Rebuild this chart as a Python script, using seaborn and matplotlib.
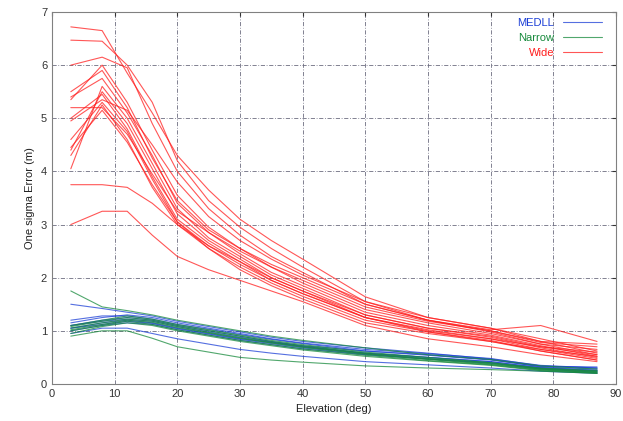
import matplotlib
matplotlib.use("Agg")
import matplotlib.pyplot as plt
import seaborn as sns
import pandas as pd

# Elevation sample points (deg)
elevation = [3, 8, 12, 16, 20, 25, 30, 35, 40, 50, 60, 70, 78, 87]

# One-sigma error (m) per satellite pass, wide correlator
wide_runs = [
    [6.72, 6.65, 5.85, 5.10, 4.30, 3.65, 3.10, 2.70, 2.35, 1.64, 1.25, 1.05, 0.85, 0.62],
    [6.47, 6.45, 6.00, 5.30, 4.20, 3.45, 2.95, 2.55, 2.20, 1.55, 1.20, 1.00, 0.80, 0.58],
    [5.35, 6.00, 5.30, 4.40, 3.55, 2.95, 2.55, 2.20, 1.90, 1.40, 1.15, 0.95, 0.75, 0.55],
    [5.40, 5.75, 5.10, 4.30, 3.40, 2.85, 2.45, 2.10, 1.85, 1.35, 1.10, 0.92, 0.72, 0.52],
    [4.05, 5.60, 5.00, 4.15, 3.30, 2.75, 2.40, 2.05, 1.80, 1.30, 1.05, 0.90, 0.70, 0.55],
    [4.40, 5.50, 4.90, 4.05, 3.20, 2.70, 2.35, 2.00, 1.75, 1.30, 1.05, 0.88, 0.68, 0.50],
    [5.00, 5.45, 4.80, 3.90, 3.10, 2.65, 2.30, 1.95, 1.70, 1.25, 1.02, 0.85, 0.65, 0.48],
    [4.60, 5.30, 4.75, 3.85, 3.05, 2.60, 2.25, 1.95, 1.70, 1.25, 1.00, 0.85, 0.70, 0.60],
    [4.30, 5.25, 4.60, 3.70, 3.00, 2.55, 2.20, 1.90, 1.65, 1.20, 0.98, 0.82, 0.62, 0.45],
    [5.20, 5.20, 4.70, 3.95, 3.25, 2.85, 2.50, 2.20, 1.95, 1.45, 1.18, 1.00, 0.78, 0.70],
    [6.00, 6.15, 5.95, 4.90, 4.00, 3.30, 2.80, 2.40, 2.10, 1.50, 1.20, 1.02, 1.10, 0.80],
    [3.75, 3.75, 3.70, 3.40, 3.00, 2.60, 2.30, 2.00, 1.75, 1.25, 0.98, 0.80, 0.62, 0.45],
    [3.00, 3.25, 3.25, 2.80, 2.40, 2.15, 1.95, 1.75, 1.55, 1.10, 0.85, 0.70, 0.55, 0.42],
    [4.45, 5.15, 4.55, 3.75, 3.05, 2.55, 2.15, 1.85, 1.60, 1.15, 0.95, 0.80, 0.65, 0.52],
    [5.50, 5.90, 5.20, 4.25, 3.45, 2.90, 2.55, 2.25, 2.00, 1.50, 1.20, 0.98, 0.75, 0.65],
    [4.95, 5.35, 5.15, 4.50, 3.80, 3.15, 2.70, 2.35, 2.05, 1.55, 1.25, 1.05, 0.80, 0.75],
]

# MEDLL receiver
medll_runs = [
    [1.05, 1.15, 1.20, 1.15, 1.05, 0.95, 0.85, 0.78, 0.70, 0.58, 0.50, 0.42, 0.30, 0.25],
    [1.10, 1.20, 1.25, 1.20, 1.10, 1.00, 0.90, 0.80, 0.72, 0.62, 0.55, 0.46, 0.32, 0.28],
    [1.00, 1.10, 1.15, 1.12, 1.02, 0.92, 0.82, 0.74, 0.66, 0.55, 0.47, 0.40, 0.28, 0.22],
    [1.15, 1.25, 1.30, 1.25, 1.15, 1.05, 0.95, 0.85, 0.77, 0.65, 0.57, 0.48, 0.34, 0.30],
    [1.50, 1.42, 1.35, 1.28, 1.18, 1.08, 0.98, 0.88, 0.80, 0.68, 0.58, 0.47, 0.35, 0.30],
    [0.95, 1.05, 1.05, 0.95, 0.85, 0.75, 0.65, 0.58, 0.52, 0.42, 0.36, 0.30, 0.24, 0.20],
    [1.10, 1.18, 1.22, 1.18, 1.08, 0.98, 0.88, 0.79, 0.71, 0.58, 0.50, 0.42, 0.31, 0.26],
    [1.20, 1.28, 1.28, 1.22, 1.12, 1.03, 0.93, 0.84, 0.76, 0.62, 0.54, 0.45, 0.33, 0.32],
    [1.05, 1.12, 1.18, 1.14, 1.04, 0.94, 0.84, 0.76, 0.68, 0.56, 0.47, 0.39, 0.29, 0.24],
]

# Narrow correlator
narrow_runs = [
    [1.00, 1.10, 1.18, 1.12, 1.02, 0.92, 0.82, 0.74, 0.66, 0.54, 0.44, 0.36, 0.26, 0.22],
    [1.05, 1.15, 1.22, 1.18, 1.08, 0.97, 0.87, 0.78, 0.70, 0.57, 0.47, 0.38, 0.28, 0.23],
    [0.90, 1.00, 1.00, 0.86, 0.70, 0.60, 0.50, 0.45, 0.41, 0.34, 0.30, 0.27, 0.24, 0.20],
    [1.10, 1.20, 1.28, 1.22, 1.12, 1.02, 0.92, 0.82, 0.74, 0.60, 0.50, 0.40, 0.30, 0.25],
    [1.75, 1.45, 1.38, 1.30, 1.20, 1.10, 1.00, 0.90, 0.82, 0.68, 0.55, 0.46, 0.34, 0.28],
    [0.95, 1.08, 1.15, 1.10, 1.00, 0.90, 0.80, 0.72, 0.64, 0.52, 0.43, 0.35, 0.25, 0.20],
    [1.08, 1.18, 1.25, 1.20, 1.10, 1.00, 0.90, 0.80, 0.72, 0.58, 0.48, 0.40, 0.29, 0.24],
    [1.02, 1.12, 1.20, 1.16, 1.06, 0.96, 0.86, 0.77, 0.69, 0.56, 0.46, 0.37, 0.27, 0.21],
]

receivers = ["MEDLL", "Narrow", "Wide"]
colors = {"MEDLL": "#1c3fd6", "Narrow": "#178a3c", "Wide": "#ff1e1e"}

rows = []
for name, runs in (("Wide", wide_runs), ("MEDLL", medll_runs), ("Narrow", narrow_runs)):
    for k, run in enumerate(runs):
        for e, v in zip(elevation, run):
            rows.append({"elev": e, "err": v, "receiver": name, "run": f"{name}{k}"})
df = pd.DataFrame(rows)

sns.set_style("white")
plt.rcParams["font.family"] = ["Liberation Sans", "DejaVu Sans"]

fig = plt.figure(figsize=(6.23, 4.21), dpi=100)
ax = fig.add_axes([0.0835, 0.088, 0.905, 0.8835])

sns.lineplot(data=df, x="elev", y="err", hue="receiver", units="run",
             estimator=None, hue_order=receivers, palette=colors,
             linewidth=0.8, alpha=0.75, ax=ax)

ax.set_xlim(0, 90)
ax.set_ylim(0, 7)
ax.set_xticks(range(0, 91, 10))
ax.set_yticks(range(0, 8))
ax.grid(True, color="#6d6d80", linestyle=(0, (5, 2, 1, 2)), linewidth=0.6)
ax.tick_params(direction="in", length=3, labelsize=8, colors="#333333",
               top=True, right=True)
for s in ax.spines.values():
    s.set_color("#808080")
    s.set_linewidth(0.8)

ax.set_xlabel("Elevation (deg)", fontsize=8, color="#222222")
ax.set_ylabel("One sigma Error (m)", fontsize=8, color="#222222")

leg = ax.legend(loc="upper right", bbox_to_anchor=(0.985, 1.0), frameon=False,
                markerfirst=False, fontsize=8, handlelength=3.5,
                labelspacing=0.45, borderaxespad=0.1)
for txt, name in zip(leg.get_texts(), receivers):
    txt.set_color(colors[name])

fig.savefig("out.png", dpi=100)
